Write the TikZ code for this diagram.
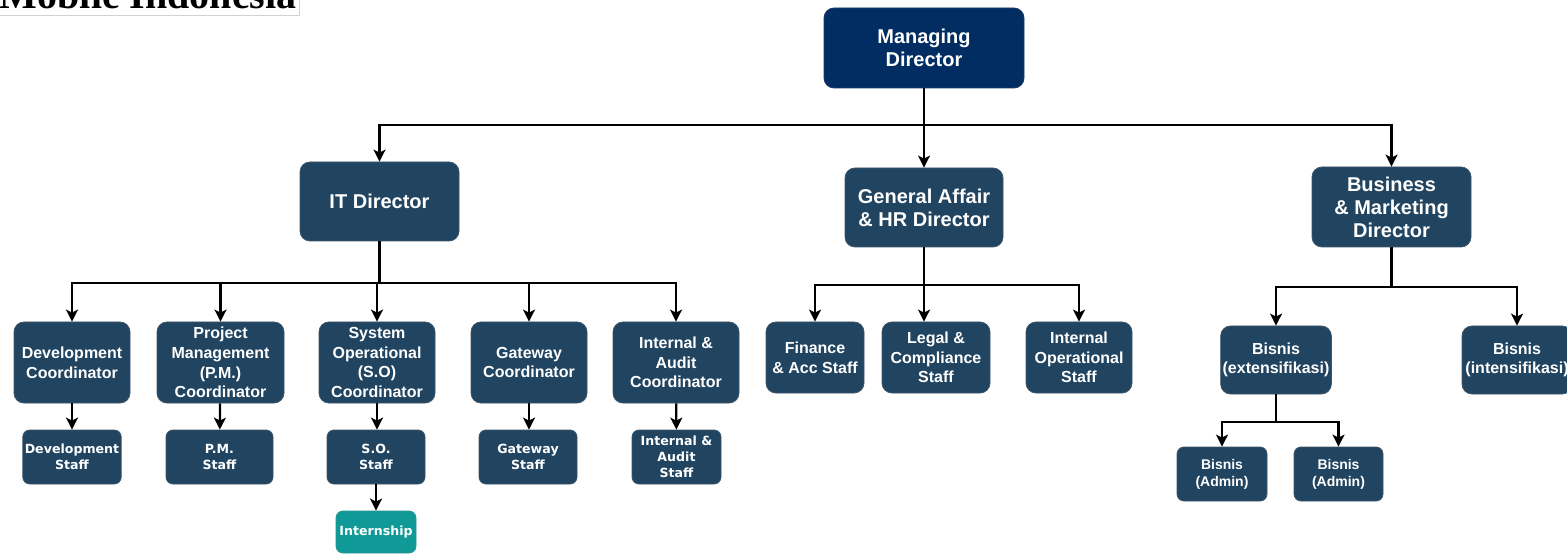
\documentclass[tikz,border=0pt]{standalone}
\usepackage{fontspec}
\setmainfont{Liberation Sans}
\newfontfamily\stafffont{DejaVu Sans}
\newfontfamily\titlefont{Liberation Serif}
\usetikzlibrary{arrows.meta}

\definecolor{mdblue}{HTML}{012D62}
\definecolor{boxblue}{HTML}{214460}
\definecolor{internteal}{HTML}{109A97}

\tikzset{
  box/.style={rectangle, rounded corners=5pt, fill=boxblue, draw=boxblue!70!gray, line width=0.4pt,
    text=white, align=center, inner sep=1pt},
  mdbox/.style={box, fill=mdblue, draw=mdblue!80!gray, font=\bfseries\fontsize{10}{11.5}\selectfont},
  dirbox/.style={box, font=\bfseries\fontsize{10}{11.5}\selectfont},
  coordbox/.style={box, font=\bfseries\fontsize{8}{9.8}\selectfont},
  staffbox/.style={box, rounded corners=3.5pt, font=\stafffont\bfseries\fontsize{6.3}{8}\selectfont},
  adminbox/.style={box, rounded corners=3.5pt, font=\bfseries\fontsize{7}{8.5}\selectfont},
  internbox/.style={staffbox, fill=internteal, draw=internteal!80!gray},
  titlebox/.style={draw=gray!35, fill=white, inner xsep=1.5pt, inner ysep=3.5pt,
    font=\titlefont\bfseries\fontsize{20}{22}\selectfont},
  link/.style={line width=1.1pt, -{Stealth[length=6pt,width=6pt,inset=1.5pt]}}
}

\begin{document}
\begin{tikzpicture}[x=0.5pt,y=-0.5pt]
  \useasboundingbox (0,0) rectangle (1567,555);
  \clip (0,0) rectangle (1567,555);
  \fill[white] (0,0) rectangle (1567,555);

  % title (cut at the top)
  \node[titlebox, anchor=south east] (title) at (300,16) {Mobile Indonesia};

  % top level
  \node[mdbox, minimum width=100pt, minimum height=40pt] (md) at (924,48) {Managing\\Director};

  % directors
  \node[dirbox, minimum width=79.5pt, minimum height=39.5pt] (it) at (379.5,201.5) {IT Director};
  \node[dirbox, minimum width=79pt, minimum height=39.5pt] (ga) at (924,207.5) {General Affair\\\& HR Director};
  \node[dirbox, minimum width=79.5pt, minimum height=40pt] (bm) at (1391.5,207) {Business\\\& Marketing\\Director};

  % IT coordinators
  \node[coordbox, minimum width=58pt, minimum height=40.5pt] (devc) at (72,362.5) {Development\\Coordinator};
  \node[coordbox, minimum width=63.5pt, minimum height=40.5pt] (pmc) at (220.5,362.5) {Project\\Management\\(P.M.)\\Coordinator};
  \node[coordbox, minimum width=58pt, minimum height=40.5pt] (soc) at (377,362.5) {System\\Operational\\(S.O)\\Coordinator};
  \node[coordbox, minimum width=58pt, minimum height=40.5pt] (gwc) at (529,362.5) {Gateway\\Coordinator};
  \node[coordbox, minimum width=63pt, minimum height=40.5pt] (iac) at (676,362.5) {Internal \&\\Audit\\Coordinator};

  % IT staff
  \node[staffbox, minimum width=49pt, minimum height=27pt] (devs) at (72,457) {Development\\Staff};
  \node[staffbox, minimum width=53.5pt, minimum height=27pt] (pms) at (219.5,457) {P.M.\\Staff};
  \node[staffbox, minimum width=49pt, minimum height=27pt] (sos) at (376,457) {S.O.\\Staff};
  \node[staffbox, minimum width=49pt, minimum height=27pt] (gws) at (528,457) {Gateway\\Staff};
  \node[staffbox, minimum width=44.5pt, minimum height=27pt] (ias) at (676.5,457) {Internal \&\\Audit\\Staff};
  \node[internbox, minimum width=40pt, minimum height=21pt] (intern) at (376,532) {Internship};

  % GA & HR staff
  \node[coordbox, minimum width=49pt, minimum height=35.5pt] (fin) at (815,357.5) {Finance\\\& Acc Staff};
  \node[coordbox, minimum width=54pt, minimum height=35.5pt] (legal) at (936,357.5) {Legal \&\\Compliance\\Staff};
  \node[coordbox, minimum width=53pt, minimum height=35.5pt] (iops) at (1079,357.5) {Internal\\Operational\\Staff};

  % business
  \node[coordbox, minimum width=54pt, minimum height=34pt] (bext) at (1276,360) {Bisnis\\(extensifikasi)};
  \node[coordbox, minimum width=55pt, minimum height=34pt] (bint) at (1517,360) {Bisnis\\(intensifikasi)};
  \node[adminbox, minimum width=45pt, minimum height=27pt] (adma) at (1222,474) {Bisnis\\(Admin)};
  \node[adminbox, minimum width=44.5pt, minimum height=27pt] (admb) at (1338.5,474) {Bisnis\\(Admin)};

  % connectors
  \foreach \n in {it,ga,bm} \draw[link] (md.south) -- (md.south |- 0,125) -| (\n.north);
  \foreach \n in {devc,pmc,soc,gwc,iac} \draw[link] (it.south) -- (it.south |- 0,283) -| (\n.north);
  \foreach \n in {fin,iops} \draw[link] (ga.south) -- (ga.south |- 0,285) -| (\n.north);
  \draw[link] (ga.south) -- (ga.south |- legal.north);
  \foreach \n in {bext,bint} \draw[link] (bm.south) -- (bm.south |- 0,287) -| (\n.north);
  \foreach \n in {adma,admb} \draw[link] (bext.south) -- (bext.south |- 0,422) -| (\n.north);
  \draw[link] (devc) -- (devs);
  \draw[link] (pmc) -- (pms);
  \draw[link] (soc.south) -- (sos.north -| soc.south);
  \draw[link] (gwc.south) -- (gws.north -| gwc.south);
  \draw[link] (iac) -- (ias);
  \draw[link] (sos) -- (intern);
\end{tikzpicture}
\end{document}
